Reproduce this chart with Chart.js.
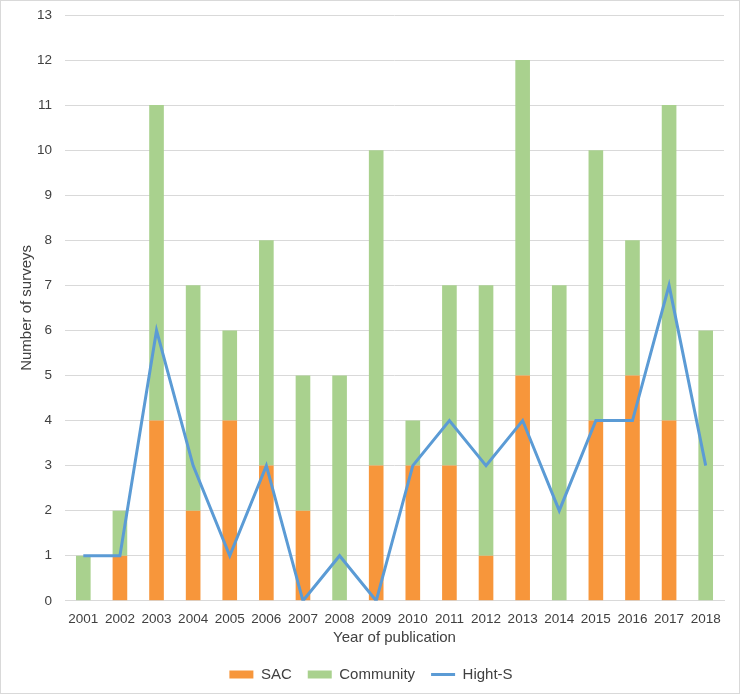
<!DOCTYPE html>
<html>
<head>
<meta charset="utf-8">
<script src="https://cdn.jsdelivr.net/npm/chart.js@4.4.0/dist/chart.umd.min.js"></script>
<style>
  html, body { margin: 0; padding: 0; background: #fff; }
  #wrap { width: 740px; height: 694px; box-sizing: border-box; border: 1px solid #d9d9d9; position: relative; }
</style>
</head>
<body>
<div id="wrap"><canvas id="surveyChart"></canvas></div>
<script>
// 年份
const years = ['2001','2002','2003','2004','2005','2006','2007','2008','2009',
               '2010','2011','2012','2013','2014','2015','2016','2017','2018'];
// SAC 數量
const sacData = [0, 1, 4, 2, 4, 3, 2, 0, 3, 3, 3, 1, 5, 0, 4, 5, 4, 0];
// Community 數量
const communityData = [1, 1, 7, 5, 2, 5, 3, 5, 7, 1, 4, 6, 7, 7, 6, 3, 7, 6];
// Hight-S 折線
const hightSData = [1, 1, 6, 3, 1, 3, 0, 1, 0, 3, 4, 3, 4, 2, 4, 4, 7, 3];

Chart.defaults.font.family = '"Liberation Sans", Arial, sans-serif';
Chart.defaults.color = '#595959';

const ctxSurvey = document.getElementById('surveyChart').getContext('2d');
const dataSurvey = {
  labels: years,
  datasets: [
    {
      type: 'bar',
      label: 'SAC',
      data: sacData,
      backgroundColor: '#F7963B',
      borderWidth: 0,
      stack: 'bars',
      order: 1,
      pointStyle: 'rect'
    },
    {
      type: 'bar',
      label: 'Community',
      data: communityData,
      backgroundColor: '#A9D18E',
      borderWidth: 0,
      stack: 'bars',
      order: 1,
      pointStyle: 'rect'
    },
    {
      type: 'line',
      label: 'Hight-S',
      data: hightSData,
      borderColor: '#5B9BD5',
      backgroundColor: '#5B9BD5',
      borderWidth: 3,
      pointRadius: 0,
      pointStyle: 'line',
      tension: 0,
      stack: 'line',
      order: 0
    }
  ]
};

const configSurvey = {
  type: 'bar',
  data: dataSurvey,
  options: {
    responsive: true,
    maintainAspectRatio: false,
    animation: false,
    layout: { padding: { left: 17, right: 15, top: 14, bottom: 1 } },
    datasets: { bar: { barPercentage: 0.4, categoryPercentage: 1.0 } },
    scales: {
      x: {
        stacked: true,
        grid: { display: false },
        border: { color: '#d9d9d9' },
        ticks: { font: { size: 13.5 }, color: '#404040', padding: 2, maxRotation: 0 },
        title: { display: true, text: 'Year of publication', font: { size: 15 }, color: '#404040', padding: { top: 0, bottom: 4 } }
      },
      y: {
        stacked: true,
        min: 0,
        max: 13,
        // 刻度線透明，只用來拉開標籤與圖區的距離
        grid: { color: '#d9d9d9', drawTicks: true, tickLength: 13, tickColor: 'rgba(0,0,0,0)' },
        border: { display: false },
        ticks: { stepSize: 1, font: { size: 13.5 }, color: '#404040', padding: 0 },
        title: { display: true, text: 'Number of surveys', font: { size: 15 }, color: '#404040', padding: { top: 0, bottom: 0 } },
        afterFit: function(scale) { scale.width = 47; }   // 固定 y 軸寬度
      }
    },
    plugins: {
      legend: {
        position: 'bottom',
        labels: {
          usePointStyle: true,
          pointStyleWidth: 24,
          boxHeight: 8,
          padding: 16,
          color: '#404040',
          font: { size: 15 },
          sort: (a, b) => a.datasetIndex - b.datasetIndex
        }
      },
      tooltip: { enabled: false }
    }
  }
};
const surveyChart = new Chart(ctxSurvey, configSurvey);
</script>
</body>
</html>
